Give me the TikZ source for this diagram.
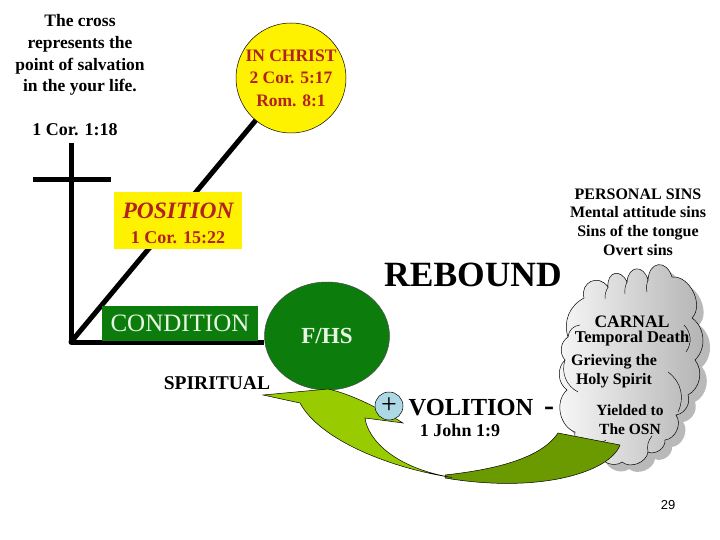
\documentclass[tikz,border=0pt]{standalone}
\usepackage{fontspec}
\setmainfont{Liberation Serif}
\newfontfamily\arialf{Liberation Sans}
\usetikzlibrary{shapes.geometric,backgrounds}
\definecolor{dred}{RGB}{178,34,34}
\definecolor{dgreen}{RGB}{12,124,12}
\definecolor{lgreen}{RGB}{153,204,0}
\definecolor{darrow}{RGB}{107,153,0}
\definecolor{lblue}{RGB}{173,216,230}
\definecolor{paletext}{RGB}{232,246,228}
\newcommand{\fs}[1]{\fontsize{#1}{#1}\selectfont}
\begin{document}
\begin{tikzpicture}[x=1pt,y=-1pt,
  t/.style={inner sep=0pt, font=\bfseries},
  thick line/.style={line width=5pt, black},
  thin edge/.style={draw=black, line width=0.5pt}]
\useasboundingbox (0,0) rectangle (720,540);

% ---- nodes ----
\node[t, align=center, font=\bfseries\fontsize{17.5}{21.7}\selectfont] (crosstxt) at (80,55) {The cross\\represents the\\point of salvation\\in the your life.};
\node[t, font=\bfseries\fs{18}] (cor118) at (75,130) {1 Cor. 1:18};

\node[circle, thin edge, fill=yellow, minimum size=110pt, inner sep=0pt, align=center, text=dred, font=\bfseries\fontsize{17.5}{22.5}\selectfont] (inchrist) at (291,78) {IN CHRIST\\2 Cor. 5:17\\Rom. 8:1};

\node[fill=yellow, minimum width=128pt, minimum height=57pt, inner sep=0pt] (position) at (178,220.5) {};
\node[t, text=dred, font=\bfseries\itshape\fs{23.5}] (postxt) at (178,211) {POSITION};
\node[t, text=dred, font=\bfseries\fs{18}] (cor1522) at (178,238) {1 Cor. 15:22};

\node[fill=dgreen, minimum width=156pt, minimum height=35pt, inner sep=0pt, text=paletext, font=\fs{25}] (condition) at (180,323.5) {CONDITION};

\node[ellipse, draw=black!70, line width=0.5pt, fill=dgreen, minimum width=125pt, minimum height=108pt, inner sep=0pt, text=paletext, font=\bfseries\fs{23}] (fhs) at (327,336) {F/HS};

\node[t, font=\bfseries\fs{19.5}] (spiritual) at (217,383) {SPIRITUAL};
\node[t, font=\bfseries\fs{35.5}] (rebound) at (473,275) {REBOUND};

\node[t, align=center, font=\bfseries\fontsize{16}{18.7}\selectfont] (sins) at (638,222) {PERSONAL SINS\\Mental attitude sins\\Sins of the tongue\\Overt sins};

% ---- lines behind ----
\begin{scope}[on background layer]
  \fill[white] (0,0) rectangle (720,540);
  \coordinate (corner) at (71,342);
  \coordinate (crosstop) at (71,143);
  \coordinate (barl) at (33,180);
  \coordinate (barr) at (111,180);
  \draw[thick line, line join=round] (crosstop) -- (corner) -- (fhs.west |- corner);
  \draw[thick line] (barl) -- (barr);
  \draw[thick line, line cap=round] (corner) -- (inchrist);
\end{scope}

% ---- cloud shadow ----
\fill[gray!55, shift={(7,7)}]
  (568,337) to[bend left=40] (584,298)
  to[bend left=80, looseness=1.6] (608,287)
  to[bend left=80, looseness=2] (627,282)
  to[bend left=80, looseness=2] (648,280)
  to[bend left=80, looseness=2] (672,277)
  to[bend left=70] (692,318)
  to[bend left=50] (695,360)
  to[bend left=50] (688,395)
  to[bend left=50] (676,415)
  to[bend left=60] (665,440)
  to[bend left=60] (648,452)
  to[bend left=60] (622,462)
  to[bend left=60] (598,452)
  to[bend left=60] (575,432)
  to[bend left=60] (567,390)
  to[bend left=50] (565,360)
  to[bend left=50] cycle;
% ---- cloud ----
\shadedraw[left color=gray!5, right color=gray!60, draw=black, line width=0.5pt]
  (568,337) to[bend left=40] (584,298)
  to[bend left=80, looseness=1.6] (608,287)
  to[bend left=80, looseness=2] (627,282)
  to[bend left=80, looseness=2] (648,280)
  to[bend left=80, looseness=2] (672,277)
  to[bend left=70] (692,318)
  to[bend left=50] (695,360)
  to[bend left=50] (688,395)
  to[bend left=50] (676,415)
  to[bend left=60] (665,440)
  to[bend left=60] (648,452)
  to[bend left=60] (622,462)
  to[bend left=60] (598,452)
  to[bend left=60] (575,432)
  to[bend left=60] (567,390)
  to[bend left=50] (565,360)
  to[bend left=50] cycle;
\begin{scope}[line width=0.45pt]
  \draw (608,287) to[bend right=15] (605,299);
  \draw (627,282) to[bend right=15] (625,294);
  \draw (648,280) to[bend right=15] (647,292);
  \draw (568,337) to[bend left=40] (580,325);
  \draw (684,325) to[bend left=40] (686,352);
  \draw (565,360) to[bend right=40] (578,392);
  \draw (668,372) to[bend left=40] (678,412);
  \draw (598,452) to[bend left=30] (606,440);
  \draw (648,452) to[bend left=25] (652,436);
\end{scope}

\node[t, font=\bfseries\fs{17.5}] (carnal) at (632,322) {CARNAL};
\node[t, font=\bfseries\fs{16.5}] (tdeath) at (632,339) {Temporal Death};
\node[t, font=\bfseries\fs{16}] (griev) at (614,362) {Grieving the};
\node[t, font=\bfseries\fs{16}] (holy) at (614,381) {Holy Spirit};
\node[t, font=\bfseries\fs{15.5}] (yield) at (630,410) {Yielded to};
\node[t, font=\bfseries\fs{15.5}] (osn) at (630,429) {The OSN};

% ---- curved arrow ----
\filldraw[fill=darrow, thin edge]
  (445,475) .. controls (490,470) and (540,460) .. (558,433)
  -- (620,445) .. controls (610,472) and (540,494) .. (445,478) -- cycle;
\filldraw[fill=lgreen, thin edge]
  (263,395) -- (328,389) .. controls (355,395) and (385,412) .. (403,423)
  -- (365,418) .. controls (368,440) and (395,468) .. (452,477.5)
  .. controls (390,468) and (320,440) .. (300,403) -- cycle;

% ---- volition ----
\node[circle, thin edge, fill=lblue, minimum size=28pt, inner sep=0pt, font=\fs{28}] (plus) at (389,406) {+};
\node[t, font=\bfseries\fs{24.5}] (volition) at (471,408) {VOLITION};
\node[t, font=\bfseries\fs{30}] (minus) at (549,411) {-};
\node[t, font=\bfseries\fs{18}] (john) at (460,430) {1 John 1:9};

\node[inner sep=0pt, font=\arialf\fs{13}] (pagenum) at (668,505) {29};
\end{tikzpicture}
\end{document}
